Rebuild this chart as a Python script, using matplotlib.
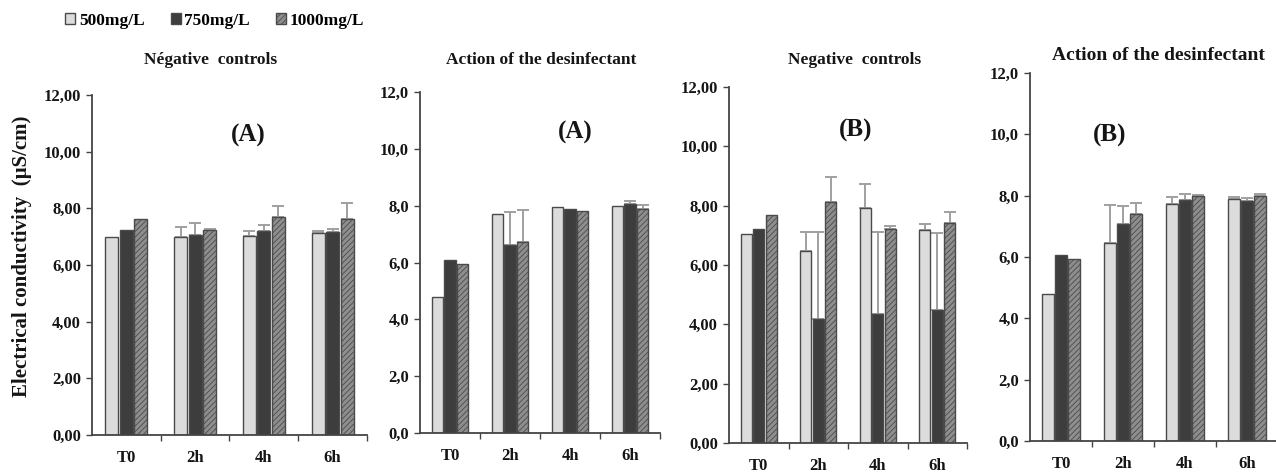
import matplotlib
matplotlib.use("Agg")
import matplotlib.pyplot as plt
from matplotlib.patches import Patch
import numpy as np

plt.rcParams['font.family'] = ['Liberation Serif', 'DejaVu Serif']
plt.rcParams['font.weight'] = 'bold'
plt.rcParams['hatch.linewidth'] = 0.6

categories = ["T0", "2h", "4h", "6h"]
series = ["500mg/L", "750mg/L", "1000mg/L"]

# Panel 1: Négative controls (A)
negA_500 = [7.0, 7.0, 7.04, 7.12]
negA_750 = [7.22, 7.05, 7.21, 7.18]
negA_1000 = [7.62, 7.25, 7.7, 7.62]
negA_500_err = [0.0, 0.35, 0.16, 0.09]
negA_750_err = [0.0, 0.42, 0.2, 0.1]
negA_1000_err = [0.0, 0.03, 0.39, 0.57]

# Panel 2: Action of the desinfectant (A)
actA_500 = [4.8, 7.71, 7.95, 8.0]
actA_750 = [6.08, 6.6, 7.89, 8.06]
actA_1000 = [5.96, 6.73, 7.81, 7.9]
actA_500_err = [0.0, 0.0, 0.0, 0.0]
actA_750_err = [0.0, 1.17, 0.0, 0.11]
actA_1000_err = [0.0, 1.12, 0.0, 0.14]

# Panel 3: Negative controls (B)
negB_500 = [7.03, 6.47, 7.92, 7.19]
negB_750 = [7.23, 4.18, 4.36, 4.5]
negB_1000 = [7.68, 8.12, 7.2, 7.42]
negB_500_err = [0.0, 0.65, 0.8, 0.18]
negB_750_err = [0.0, 2.94, 2.76, 2.57]
negB_1000_err = [0.0, 0.84, 0.11, 0.37]

# Panel 4: Action of the desinfectant (B)
actB_500 = [4.8, 6.47, 7.72, 7.9]
actB_750 = [6.05, 7.07, 7.87, 7.82]
actB_1000 = [5.95, 7.4, 8.0, 8.0]
actB_500_err = [0.0, 1.23, 0.23, 0.07]
actB_750_err = [0.0, 0.58, 0.18, 0.12]
actB_1000_err = [0.0, 0.36, 0.03, 0.05]

yticks = [0, 2, 4, 6, 8, 10, 12]
yticklabels_2 = ["0,00", "2,00", "4,00", "6,00", "8,00", "10,00", "12,00"]
yticklabels_1 = ["0,0", "2,0", "4,0", "6,0", "8,0", "10,0", "12,0"]

panels = [
    dict(title="Négative  controls", tag="(A)", vals=(negA_500, negA_750, negA_1000),
         errs=(negA_500_err, negA_750_err, negA_1000_err), labels=yticklabels_2,
         rect=[92, 435, 275, 340], title_xy=(211, 60), tag_xy=(248, 135), tsize=12.5),
    dict(title="Action of the desinfectant", tag="(A)", vals=(actA_500, actA_750, actA_1000),
         errs=(actA_500_err, actA_750_err, actA_1000_err), labels=yticklabels_1,
         rect=[420, 433, 240, 341], title_xy=(541, 60), tag_xy=(575, 132), tsize=12.5),
    dict(title="Negative  controls", tag="(B)", vals=(negB_500, negB_750, negB_1000),
         errs=(negB_500_err, negB_750_err, negB_1000_err), labels=yticklabels_2,
         rect=[729, 443, 238, 356], title_xy=(855, 60), tag_xy=(856, 130), tsize=12.5),
    dict(title="Action of the desinfectant", tag="(B)", vals=(actB_500, actB_750, actB_1000),
         errs=(actB_500_err, actB_750_err, actB_1000_err), labels=yticklabels_1,
         rect=[1030, 441, 248, 368], title_xy=(1052, 55), tag_xy=(1110, 135), tsize=14),
]

W, H = 1276, 472
fig = plt.figure(figsize=(W / 100, H / 100), dpi=100)

face = ["#dcdcdc", "#3d3d3d", "#8e8e8e"]
hatches = ["", "", "//////"]
edge = "#4a4a4a"
err_color = "#a0a0a0"
txt = "#151515"

x = np.arange(len(categories))
width = 0.19
offsets = [-0.21, 0.0, 0.21]

for k, p in enumerate(panels):
    l, b, w, h = p["rect"]
    ax = fig.add_axes([l / W, (H - b) / H, w / W, h / H])
    for i in range(3):
        vals = np.array(p["vals"][i])
        errs = np.array(p["errs"][i])
        ax.bar(x + offsets[i], vals, width, color=face[i], edgecolor=edge,
               linewidth=1.0, hatch=hatches[i], zorder=2)
        mask = errs > 0
        if mask.any():
            ax.errorbar((x + offsets[i])[mask], vals[mask],
                        yerr=[np.zeros(mask.sum()), errs[mask]],
                        fmt="none", ecolor=err_color, elinewidth=1.4,
                        capsize=4, capthick=1.4, zorder=1)
    ax.set_xlim(-0.5, 3.5)
    ax.set_ylim(0, 12)
    ax.set_yticks(yticks)
    ax.set_yticklabels(p["labels"], fontsize=12, fontweight="bold", color=txt)
    ax.set_xticks(x)
    ax.set_xticklabels(categories, fontsize=12, fontweight="bold", color=txt)
    ax.set_xticks([0.5, 1.5, 2.5, 3.5], minor=True)
    ax.tick_params(axis="x", which="major", length=0, pad=11)
    ax.tick_params(axis="x", which="minor", length=4, width=1.0, color="#444", direction="out")
    ax.tick_params(axis="y", length=4, width=1.0, color="#444", direction="out", pad=4)
    for s in ["top", "right"]:
        ax.spines[s].set_visible(False)
    for s in ["left", "bottom"]:
        ax.spines[s].set_color("#444")
        ax.spines[s].set_linewidth(1.3)
    ax.patch.set_alpha(0)
    ha = "left" if k == 3 else "center"
    fig.text(p["title_xy"][0] / W, 1 - p["title_xy"][1] / H, p["title"],
             ha=ha, va="center", fontsize=p["tsize"], fontweight="bold", color=txt)
    fig.text(p["tag_xy"][0] / W, 1 - p["tag_xy"][1] / H, p["tag"],
             ha="center", va="center", fontsize=18, fontweight="bold", color=txt)

fig.text(22 / W, 1 - 256 / H, "Electrical conductivity  (µS/cm)", rotation=90,
         ha="center", va="center", fontsize=15, fontweight="bold", color=txt)

handles = [Patch(facecolor=face[i], edgecolor=edge, hatch=hatches[i], linewidth=1.0)
           for i in range(3)]
fig.legend(handles, series, loc="center left", bbox_to_anchor=(58 / W, 1 - 21 / H),
           ncol=3, frameon=False, handlelength=0.6, handleheight=0.6,
           handletextpad=0.2, columnspacing=1.5, borderaxespad=0,
           prop=dict(family="Liberation Serif", weight="bold", size=12.5))

fig.savefig("out.png", dpi=100)
